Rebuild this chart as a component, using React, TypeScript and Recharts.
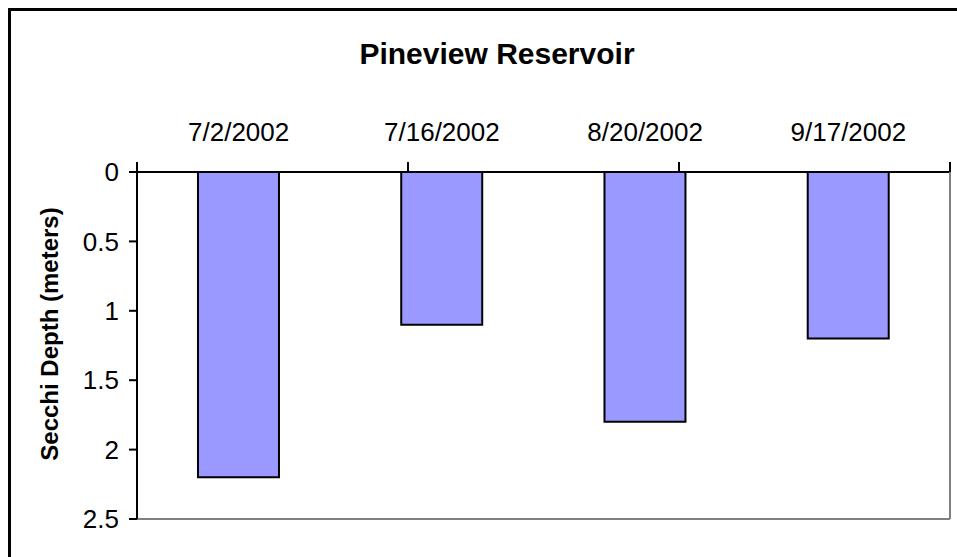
import React from 'react';
import { BarChart, Bar, XAxis, YAxis } from 'recharts';

// sampling dates and secchi depths (meters)
const categories = ['7/2/2002', '7/16/2002', '8/20/2002', '9/17/2002'];
const depths = [2.2, 1.1, 1.8, 1.2];
const yTicks = [0, 0.5, 1, 1.5, 2, 2.5];
const edgeTicks = [0, 1, 2, 3, 4];

const FONT = '"Liberation Sans", Arial, sans-serif';

const data = categories.map((date, i) => ({ date, depth: depths[i] }));

const App: React.FC = () => {
  return (
    <div
      style={{
        position: 'absolute',
        left: 0,
        top: 0,
        width: 957,
        height: 557,
        overflow: 'hidden',
        background: '#fff',
        fontFamily: FONT,
      }}
    >
      {/* outer frame, cut off at right and bottom */}
      <div
        style={{
          position: 'absolute',
          left: 8,
          top: 8,
          width: 1200,
          height: 800,
          border: '3px solid #000',
        }}
      />
      <div
        style={{
          position: 'absolute',
          left: 497,
          top: 39,
          transform: 'translateX(-50%)',
          fontSize: 30,
          lineHeight: '30px',
          fontWeight: 'bold',
          whiteSpace: 'nowrap',
          color: '#000',
        }}
      >
        Pineview Reservoir
      </div>
      <div
        style={{
          position: 'absolute',
          left: 50,
          top: 334,
          transform: 'translate(-50%, -50%) rotate(-90deg)',
          fontSize: 24,
          lineHeight: '24px',
          fontWeight: 'bold',
          whiteSpace: 'nowrap',
          color: '#000',
        }}
      >
        Secchi Depth (meters)
      </div>
      <div style={{ position: 'absolute', left: 0, top: 0 }}>
        <BarChart
          width={957}
          height={557}
          data={data}
          margin={{ top: 112, right: 6, bottom: 37, left: 37 }}
          barCategoryGap="30%"
        >
          {/* boundary ticks + top axis line (closest to the plot) */}
          <XAxis
            xAxisId="a_edges"
            type="number"
            orientation="top"
            domain={[0, 4]}
            ticks={edgeTicks}
            tickFormatter={() => ''}
            tickSize={10}
            height={10}
            axisLine={{ stroke: '#000', strokeWidth: 2 }}
            tickLine={{ stroke: '#000', strokeWidth: 2 }}
          />
          <XAxis
            xAxisId="b_cat"
            dataKey="date"
            orientation="top"
            height={50}
            interval={0}
            axisLine={false}
            tickLine={false}
            tickSize={0}
            tickMargin={21}
            tick={{ fill: '#000', fontSize: 26, fontFamily: FONT }}
          />
          <XAxis
            xAxisId="c_bottom"
            type="number"
            orientation="bottom"
            domain={[0, 4]}
            ticks={edgeTicks}
            height={1}
            tick={false}
            tickLine={false}
            axisLine={{ stroke: '#808080', strokeWidth: 2 }}
          />
          <YAxis
            yAxisId="left"
            reversed
            domain={[0, 2.5]}
            ticks={yTicks}
            width={100}
            tickSize={8}
            tickMargin={10}
            axisLine={{ stroke: '#000', strokeWidth: 2 }}
            tickLine={{ stroke: '#000', strokeWidth: 2 }}
            tick={{ fill: '#000', fontSize: 26, fontFamily: FONT }}
          />
          <YAxis
            yAxisId="right"
            orientation="right"
            domain={[0, 2.5]}
            ticks={yTicks}
            width={1}
            tick={false}
            tickLine={false}
            axisLine={{ stroke: '#808080', strokeWidth: 2 }}
          />
          <Bar
            xAxisId="b_cat"
            yAxisId="left"
            dataKey="depth"
            fill="#9999FF"
            stroke="#000"
            strokeWidth={2}
            isAnimationActive={false}
          />
        </BarChart>
      </div>
    </div>
  );
};

export default App;
